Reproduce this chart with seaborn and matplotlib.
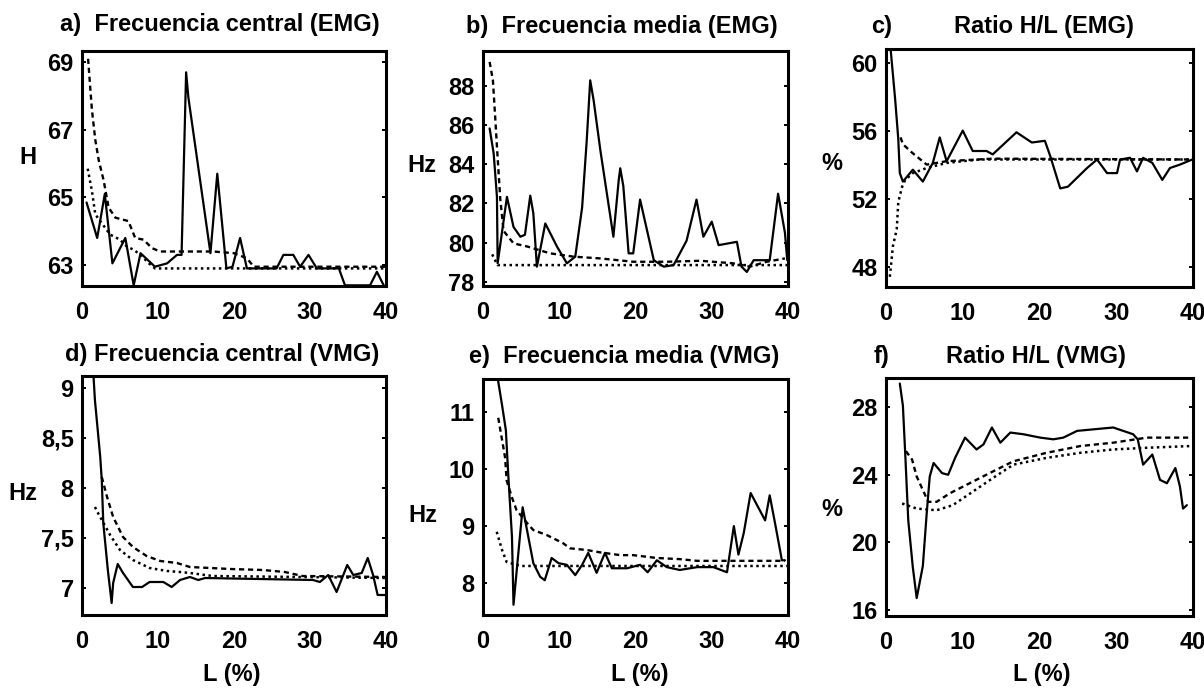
import matplotlib
matplotlib.use("Agg")
import matplotlib.pyplot as plt
import seaborn as sns

# ---------------- data ----------------
# a) Frecuencia central (EMG)
a_sol_x = [0.6, 2.0, 3.0, 4.0, 5.7, 6.8, 7.7, 9.6, 11.2, 12.5, 13.1, 13.7, 14.0, 16.9, 17.8,
           19.0, 19.8, 20.8, 21.7, 25.6, 26.5, 27.8, 28.7, 29.8, 30.9, 33.8, 34.6, 37.9, 38.8, 39.7]
a_sol_y = [64.85, 63.8, 65.1, 63.05, 63.8, 62.4, 63.35, 62.95, 63.05, 63.3, 63.3, 68.7, 67.95, 63.35, 65.7,
           62.9, 62.95, 63.8, 62.9, 62.9, 63.3, 63.3, 62.95, 63.3, 62.9, 62.9, 62.4, 62.4, 62.8, 62.4]
a_das_x = [0.8, 1.3, 1.75, 2.2, 2.85, 3.5, 4.4, 6.1, 7.0, 8.1, 9.2, 10.3, 17.3, 20.0, 21.7, 22.6, 30.0, 40.0]
a_das_y = [69.1, 67.6, 66.7, 66.1, 65.5, 64.7, 64.4, 64.3, 63.8, 63.75, 63.5, 63.4, 63.4, 63.35, 63.2, 62.95, 62.95, 62.95]
a_dot_x = [0.75, 1.3, 1.75, 3.7, 5.0, 5.9, 6.8, 7.7, 8.8, 9.6, 40.0]
a_dot_y = [65.85, 65.2, 64.5, 63.9, 63.75, 63.55, 63.45, 63.3, 63.05, 62.9, 62.9]

# b) Frecuencia media (EMG)
b_sol_x = [0.87, 1.4, 1.83, 1.92, 3.14, 4.0, 4.9, 5.5, 6.2, 6.6, 7.07, 8.17, 9.7, 11.0, 12.1, 13.0,
           13.6, 14.06, 14.5, 15.4, 17.1, 17.8, 18.0, 18.4, 19.1, 19.7, 20.6, 22.4, 23.7, 25.0, 26.7,
           28.0, 28.9, 30.0, 30.9, 33.3, 33.9, 34.6, 35.5, 37.6, 38.7, 39.6, 39.9]
b_sol_y = [85.84, 84.56, 82.34, 78.94, 82.34, 80.8, 80.3, 80.4, 82.4, 81.5, 78.77, 80.98, 79.8, 78.94, 79.28, 81.8,
           85.2, 88.3, 87.3, 84.7, 80.3, 83.2, 83.8, 82.9, 79.45, 79.45, 82.2, 79.1, 78.77, 78.85, 80.1,
           82.2, 80.3, 81.07, 79.87, 80.04, 78.77, 78.5, 79.1, 79.1, 82.5, 80.5, 79.1]
b_das_x = [0.87, 1.3, 1.6, 1.83, 2.27, 2.7, 4.0, 5.8, 8.8, 11.9, 15.4, 19.7, 24.1, 28.5, 32.8, 35.0, 37.2, 39.6]
b_das_y = [89.24, 88.3, 86.4, 84.9, 82.2, 80.6, 79.96, 79.8, 79.45, 79.28, 79.19, 79.02, 79.02, 79.07, 78.94, 78.77, 79.02, 79.19]
b_dot_x = [1.2, 1.9, 40.0]
b_dot_y = [79.4, 78.85, 78.85]

# c) Ratio H/L (EMG)
c_sol_x = [0.6, 1.2, 1.6, 1.8, 2.2, 3.5, 4.8, 6.1, 7.0, 7.9, 10.0, 11.3, 13.1, 13.9, 17.0, 19.0, 20.7,
           21.4, 22.7, 23.7, 26.2, 27.5, 28.8, 30.1, 30.5, 31.8, 32.7, 33.5, 34.7, 36.0, 37.0, 38.3, 39.9]
c_sol_y = [60.8, 57.8, 55.5, 53.5, 53.0, 53.7, 53.0, 54.1, 55.6, 54.2, 56.0, 54.8, 54.8, 54.6, 55.9, 55.3, 55.4,
           54.5, 52.6, 52.7, 53.8, 54.3, 53.5, 53.5, 54.3, 54.4, 53.6, 54.4, 54.1, 53.1, 53.8, 54.0, 54.3]
c_das_x = [1.9, 2.2, 3.4, 5.3, 7.9, 13.9, 40.0]
c_das_y = [55.6, 55.2, 54.7, 54.0, 54.2, 54.35, 54.3]
c_dot_x = [0.5, 0.9, 1.4, 1.6, 2.1, 2.5, 3.5, 5.3, 7.9, 12.2, 40.0]
c_dot_y = [47.4, 49.2, 50.2, 51.8, 52.7, 53.1, 53.5, 53.8, 54.1, 54.3, 54.3]

# d) Frecuencia central (VMG)
d_sol_x = [1.45, 1.7, 2.4, 2.6, 2.8, 3.4, 3.9, 4.1, 4.7, 5.4, 6.7, 7.9, 8.9, 10.7, 11.8, 12.9, 14.2,
           15.3, 16.2, 30.4, 31.3, 32.4, 33.5, 34.9, 35.7, 36.8, 37.6, 38.3, 38.9, 39.9]
d_sol_y = [9.2, 8.88, 8.31, 8.08, 7.65, 7.18, 6.85, 7.05, 7.24, 7.15, 7.01, 7.01, 7.06, 7.06, 7.01, 7.08, 7.11,
           7.08, 7.1, 7.08, 7.06, 7.13, 6.96, 7.23, 7.13, 7.15, 7.30, 7.13, 6.93, 6.93]
d_das_x = [2.6, 3.3, 4.1, 5.4, 6.7, 8.5, 10.3, 12.5, 14.2, 19.5, 23.8, 26.7, 29.0, 40.0]
d_das_y = [8.11, 7.91, 7.71, 7.51, 7.41, 7.32, 7.27, 7.25, 7.21, 7.19, 7.18, 7.16, 7.12, 7.11]
d_dot_x = [1.7, 2.1, 3.7, 5.0, 6.7, 8.9, 11.2, 12.9, 14.2, 17.2, 40.0]
d_dot_y = [7.81, 7.75, 7.53, 7.38, 7.28, 7.2, 7.17, 7.16, 7.15, 7.12, 7.1]

# e) Frecuencia media (VMG)
e_sol_x = [1.8, 2.5, 3.0, 3.3, 3.8, 4.0, 5.2, 6.6, 7.5, 8.1, 9.0, 9.9, 11.0, 12.1, 13.0, 13.8, 14.9,
           16.0, 16.9, 18.9, 20.6, 21.6, 22.8, 24.1, 25.8, 28.1, 30.2, 32.0, 32.9, 33.5, 34.2, 35.1,
           37.0, 37.6, 38.3, 39.2, 39.6]
e_sol_y = [11.7, 11.12, 10.68, 9.93, 8.81, 7.62, 9.33, 8.35, 8.11, 8.05, 8.44, 8.35, 8.32, 8.14, 8.32, 8.53, 8.18,
           8.53, 8.26, 8.26, 8.32, 8.19, 8.4, 8.28, 8.23, 8.28, 8.28, 8.19, 9.0, 8.5, 8.88, 9.58,
           9.1, 9.54, 9.05, 8.4, 8.4]
e_das_x = [2.0, 2.9, 3.1, 3.8, 4.4, 5.8, 6.6, 8.4, 10.5, 11.4, 13.6, 15.3, 18.0, 19.7, 22.8, 25.8, 28.1, 34.6, 39.6]
e_das_y = [10.9, 10.2, 9.8, 9.5, 9.28, 9.05, 8.93, 8.84, 8.7, 8.61, 8.58, 8.54, 8.49, 8.49, 8.44, 8.42, 8.39, 8.39, 8.39]
e_dot_x = [1.8, 2.5, 3.1, 4.9, 40.0]
e_dot_y = [8.9, 8.58, 8.37, 8.3, 8.3]

# f) Ratio H/L (VMG)
f_sol_x = [1.8, 2.2, 2.5, 2.9, 3.5, 4.0, 4.8, 5.3, 5.7, 6.2, 7.3, 8.1, 9.0, 10.3, 11.8, 12.7, 13.8, 14.9,
           16.2, 17.9, 20.1, 21.8, 23.1, 24.9, 29.6, 32.2, 32.8, 33.5, 34.7, 35.7, 36.6, 37.7, 38.3, 38.7, 39.2]
f_sol_y = [29.4, 28.1, 25.3, 21.3, 18.5, 16.7, 18.6, 21.7, 23.9, 24.7, 24.1, 24.0, 25.0, 26.2, 25.5, 25.8, 26.8, 25.9,
           26.5, 26.4, 26.2, 26.1, 26.2, 26.6, 26.8, 26.4, 26.1, 24.6, 25.2, 23.7, 23.5, 24.4, 23.3, 22.0, 22.2]
f_das_x = [2.6, 3.4, 4.0, 4.8, 5.5, 6.6, 8.3, 10.9, 13.5, 16.6, 20.9, 25.3, 29.6, 34.0, 39.6]
f_das_y = [25.4, 24.9, 23.9, 23.1, 22.4, 22.4, 22.9, 23.5, 24.1, 24.8, 25.3, 25.7, 25.9, 26.2, 26.2]
f_dot_x = [2.1, 4.0, 6.6, 8.7, 11.3, 13.9, 16.6, 20.9, 25.3, 29.6, 34.0, 39.6]
f_dot_y = [22.3, 22.0, 21.9, 22.2, 23.0, 23.8, 24.6, 25.0, 25.3, 25.5, 25.6, 25.7]

x_ticks = [0, 10, 20, 30, 40]
a_yticks = [63, 65, 67, 69]
b_yticks = [78, 80, 82, 84, 86, 88]
c_yticks = [48, 52, 56, 60]
d_yticks = [7, 7.5, 8, 8.5, 9]
d_yticklabels = ["7", "7,5", "8", "8,5", "9"]
e_yticks = [8, 9, 10, 11]
f_yticks = [16, 20, 24, 28]

# ---------------- figure ----------------
sns.set_style("white")
plt.rcParams["font.family"] = ["Liberation Sans", "DejaVu Sans"]
plt.rcParams["font.weight"] = "bold"

W, H = 1204, 691
fig = plt.figure(figsize=(W / 100, H / 100), dpi=100)


def box(left, right, top, bottom):
    return [left / W, 1 - bottom / H, (right - left) / W, (bottom - top) / H]


def ftext(x, y, s, **kw):
    fig.text(x / W, 1 - y / H, s, ha="center", va="center", fontsize=17,
             fontweight="bold", color="black", **kw)


panels = [
    dict(pos=box(82, 386, 51, 286), ylim=(62.38, 69.33), yt=a_yticks, ytl=None,
         series=[(a_sol_x, a_sol_y), (a_das_x, a_das_y), (a_dot_x, a_dot_y)]),
    dict(pos=box(483, 788, 51, 286), ylim=(77.78, 89.8), yt=b_yticks, ytl=None,
         series=[(b_sol_x, b_sol_y), (b_das_x, b_das_y), (b_dot_x, b_dot_y)]),
    dict(pos=box(886, 1193, 49, 287), ylim=(46.8, 60.8), yt=c_yticks, ytl=None,
         series=[(c_sol_x, c_sol_y), (c_das_x, c_das_y), (c_dot_x, c_dot_y)]),
    dict(pos=box(82, 386, 376, 615), ylim=(6.73, 9.12), yt=d_yticks, ytl=d_yticklabels,
         series=[(d_sol_x, d_sol_y), (d_das_x, d_das_y), (d_dot_x, d_dot_y)]),
    dict(pos=box(483, 788, 379, 615), ylim=(7.44, 11.58), yt=e_yticks, ytl=None,
         series=[(e_sol_x, e_sol_y), (e_das_x, e_das_y), (e_dot_x, e_dot_y)]),
    dict(pos=box(886, 1193, 378, 616), ylim=(15.64, 29.73), yt=f_yticks, ytl=None,
         series=[(f_sol_x, f_sol_y), (f_das_x, f_das_y), (f_dot_x, f_dot_y)]),
]

styles = [
    dict(linestyle="-", linewidth=1.6),
    dict(linestyle=(0, (2.2, 1.6)), linewidth=1.7),
    dict(linestyle=(0, (1.0, 1.4)), linewidth=1.8),
]

for p in panels:
    ax = fig.add_axes(p["pos"])
    for (xs, ys), st in zip(p["series"], styles):
        sns.lineplot(x=xs, y=ys, ax=ax, color="black", sort=False, estimator=None, **st)
    ax.set_xlim(0, 40)
    ax.set_ylim(*p["ylim"])
    ax.set_xticks(x_ticks)
    ax.set_xticklabels([str(t) for t in x_ticks])
    ax.set_yticks(p["yt"])
    ax.set_yticklabels(p["ytl"] if p["ytl"] else [str(t) for t in p["yt"]])
    ax.tick_params(axis="both", direction="in", length=3, width=1.4, labelsize=17,
                   colors="black", left=True, right=True, bottom=False, top=False)
    ax.tick_params(axis="x", pad=11)
    ax.tick_params(axis="y", pad=6)
    for lab in ax.get_xticklabels() + ax.get_yticklabels():
        lab.set_fontweight("bold")
    for sp in ax.spines.values():
        sp.set_visible(True)
        sp.set_color("black")
        sp.set_linewidth(2.2)
    ax.set_xlabel("")
    ax.set_ylabel("")

# titles
ftext(220, 25, "a)  Frecuencia central (EMG)")
ftext(622, 27, "b)  Frecuencia media (EMG)")
ftext(882, 27, "c)")
ftext(1044, 27, "Ratio H/L (EMG)")
ftext(222, 355, "d) Frecuencia central (VMG)")
ftext(624, 357, "e)  Frecuencia media (VMG)")
ftext(882, 357, "f)")
ftext(1036, 357, "Ratio H/L (VMG)")

# axis labels
ftext(28, 158, "H")
ftext(422, 165, "Hz")
ftext(832, 163, "%")
ftext(23, 493, "Hz")
ftext(423, 515, "Hz")
ftext(832, 510, "%")
ftext(232, 675, "L (%)")
ftext(640, 675, "L (%)")
ftext(1042, 675, "L (%)")

fig.savefig("out.png", dpi=100, facecolor="white")
